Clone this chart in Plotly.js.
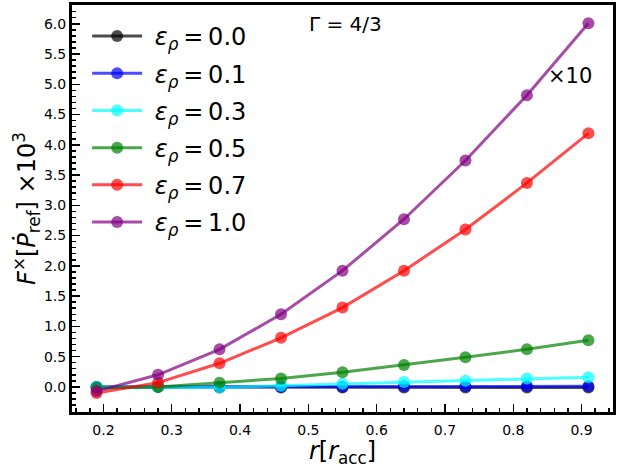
<!DOCTYPE html>
<html>
<head>
<meta charset="utf-8">
<script src="https://cdn.plot.ly/plotly-3.0.1.min.js"></script>
<style>
  html, body { margin: 0; padding: 0; background: #fff; }
  #chart { width: 622px; height: 468px; }
</style>
</head>
<body>
<div id="chart"></div>
<script>
// radius in units of r_acc
const radius = [0.19, 0.28, 0.37, 0.46, 0.55, 0.64, 0.73, 0.82, 0.91];

// F^x [Pdot_ref] x 10^3 for each epsilon_rho
const eps00 = [0.00, 0.00, -0.01, -0.01, -0.01, -0.01, -0.01, -0.01, -0.01];
const eps01 = [0.00, 0.00, 0.00, 0.00, 0.00, 0.01, 0.01, 0.01, 0.01];
const eps03 = [0.00, 0.00, -0.01, 0.02, 0.05, 0.08, 0.10, 0.14, 0.16];
const eps05 = [-0.02, 0.00, 0.07, 0.14, 0.24, 0.36, 0.49, 0.62, 0.77];
const eps07 = [-0.10, 0.07, 0.39, 0.81, 1.31, 1.92, 2.60, 3.37, 4.19];
const eps10 = [-0.07, 0.20, 0.62, 1.20, 1.92, 2.77, 3.74, 4.82, 6.01];

const seriesNames = ['0.0', '0.1', '0.3', '0.5', '0.7', '1.0'];
const seriesValues = [eps00, eps01, eps03, eps05, eps07, eps10];
const seriesColors = [
  'rgba(0,0,0,0.7)',
  'rgba(0,0,255,0.7)',
  'rgba(0,255,255,0.7)',
  'rgba(0,128,0,0.7)',
  'rgba(255,0,0,0.7)',
  'rgba(128,0,128,0.7)'
];

const traces = seriesValues.map((vals, i) => ({
  x: radius,
  y: vals,
  type: 'scatter',
  mode: 'lines+markers',
  name: '\u00a0<i>ε</i><sub><i>ρ</i></sub>\u2009=\u2009' + seriesNames[i],
  legendgroup: 'g' + i,
  line: {color: seriesColors[i], width: 3},
  marker: {color: seriesColors[i], size: 12}
}));

const tickFont = {family: 'DejaVu Sans', size: 14, color: '#000'};

const layout = {
  width: 622,
  height: 468,
  margin: {l: 72, r: 9, t: 5, b: 56},
  paper_bgcolor: '#fff',
  plot_bgcolor: '#fff',
  font: {family: 'DejaVu Sans', color: '#000'},
  showlegend: true,
  legend: {
    x: 0.028, y: 0.978, xanchor: 'left', yanchor: 'top',
    bgcolor: 'rgba(0,0,0,0)',
    font: {family: 'DejaVu Sans', size: 24, color: '#000'},
    tracegroupgap: 3,
    itemwidth: 50
  },
  xaxis: {
    range: [0.154, 0.946],
    tick0: 0, dtick: 0.1,
    tickformat: '.1f',
    ticks: 'inside', ticklen: 8, tickwidth: 1.5, tickcolor: '#000',
    minor: {dtick: 0.02, ticks: 'inside', ticklen: 4, tickwidth: 1.5, tickcolor: '#000', showgrid: false},
    showgrid: false, zeroline: false,
    showline: true, mirror: true, linewidth: 3, linecolor: '#000',
    tickfont: tickFont,
    ticklabelstandoff: 3,
    title: {text: '<i>r</i>[<i>r</i><sub>acc</sub>]', font: {family: 'DejaVu Sans', size: 24, color: '#000'}, standoff: 2}
  },
  yaxis: {
    range: [-0.415, 6.31],
    tick0: 0, dtick: 0.5,
    tickformat: '.1f',
    ticks: 'inside', ticklen: 8, tickwidth: 1.5, tickcolor: '#000',
    minor: {dtick: 0.1, ticks: 'inside', ticklen: 4, tickwidth: 1.5, tickcolor: '#000', showgrid: false},
    showgrid: false, zeroline: false,
    showline: true, mirror: true, linewidth: 3, linecolor: '#000',
    tickfont: tickFont,
    title: {text: '<i>F</i><sup>×</sup>[<i>Ṗ</i><sub>ref</sub>] ×10<sup>3</sup>', font: {family: 'DejaVu Sans', size: 24, color: '#000'}, standoff: 0}
  },
  annotations: [
    {xref: 'paper', yref: 'paper', x: 0.505, y: 0.953, xanchor: 'center', yanchor: 'middle',
     text: 'Γ = 4/3', showarrow: false, font: {family: 'DejaVu Sans', size: 20, color: '#000'}},
    {xref: 'paper', yref: 'paper', x: 0.92, y: 0.826, xanchor: 'center', yanchor: 'middle',
     text: '×10', showarrow: false, font: {family: 'DejaVu Sans', size: 21, color: '#000'}}
  ]
};

Plotly.newPlot('chart', traces, layout, {staticPlot: true, displayModeBar: false});
</script>
</body>
</html>
